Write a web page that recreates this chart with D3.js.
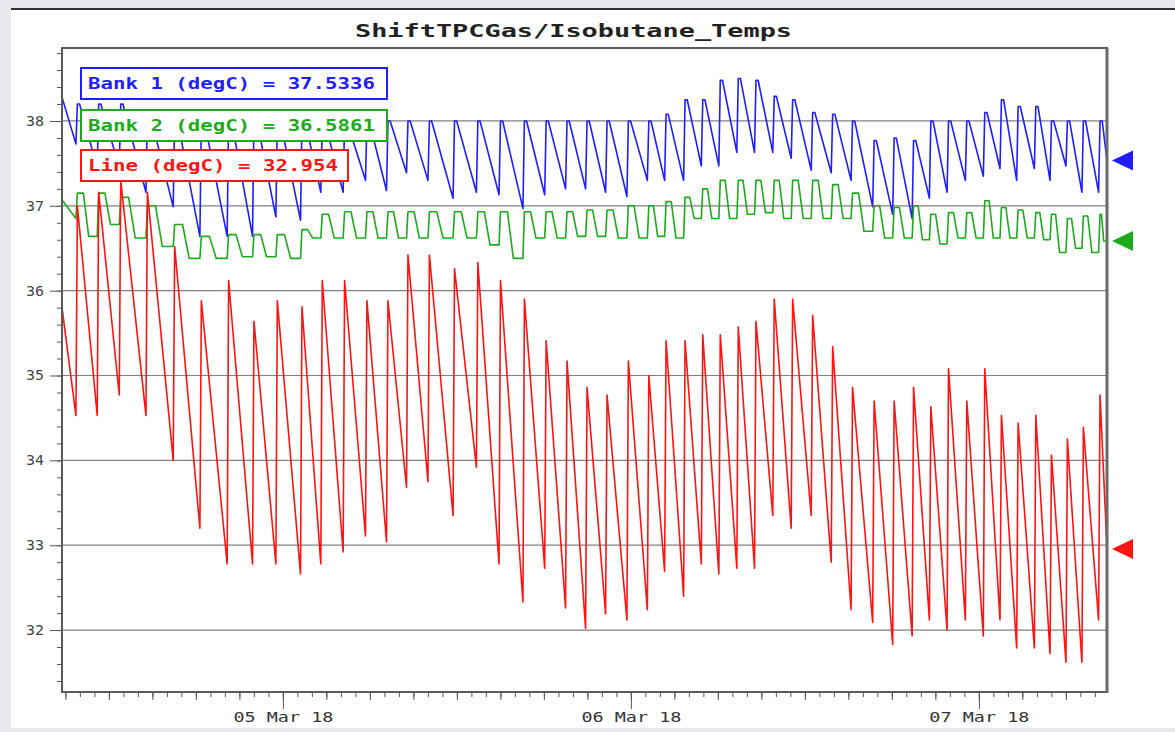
<!DOCTYPE html>
<html>
<head>
<meta charset="utf-8">
<script src="https://cdn.jsdelivr.net/npm/d3@7"></script>
<style>
  body { margin: 0; background: #e8eaee; }
  svg { display: block; }
  text { font-family: "DejaVu Sans Mono", "Liberation Mono", monospace; }
</style>
</head>
<body>
<div id="chart"></div>
<script>
// ShiftTPCGas/Isobutane_Temps, values

var titleText = "ShiftTPCGas/Isobutane_Temps"
var seriesNames = ["Bank 1 (degC)", "Bank 2 (degC)", "Line (degC)"]
var lastValues = [37.5336, 36.5861, 32.954]
var firstValues = [38.28, 37.07, 35.8]
var yTicks = [32, 33, 34, 35, 36, 37, 38]
var startTime = Date.UTC(2018, 2, 4, 8, 46)
var spanHours = 72.07

// hours after start where each compressor cycle jumps up
var cycleHours = [0.96, 2.43, 3.95, 5.79, 7.67, 9.51, 11.39, 13.14, 14.75, 16.45, 17.85,
  19.39, 20.93, 22.38, 23.76, 25.24, 26.97, 28.58, 30.14, 31.79, 33.29, 34.73,
  36.11, 37.49, 38.96, 40.37, 41.56, 42.87, 44.09, 45.30, 46.54, 47.76, 49.02, 50.29, 51.67, 53.05,
  54.42, 55.91, 57.29, 58.63, 59.82, 61.04, 62.30, 63.54, 64.69, 65.84, 67.06, 68.14, 69.24, 70.34, 71.49]

var bank1Low = [37.73, 37.45, 37.45, 37.16, 36.99, 36.64, 36.64, 36.64, 36.87, 36.83, 37.16,
  37.16, 37.3, 37.18, 37.39, 37.3, 37.09, 37.16, 37.13, 36.97, 37.13, 37.2,
  37.2, 37.16, 37.11, 37.3, 37.3, 37.3, 37.47, 37.47, 37.63, 37.63, 37.63, 37.56, 37.42, 37.39,
  37.3, 36.99, 36.9, 36.85, 37.09, 37.16, 37.3, 37.35, 37.44, 37.3, 37.44, 37.3, 37.47, 37.16, 37.16]
var bank1High = [38.2, 38.2, 38.2, 38.1, 38.05, 38.05, 38.05, 38.05, 38.05, 38.05, 38.0,
  38.0, 38.0, 38.0, 38.0, 38.0, 38.0, 38.0, 38.0, 38.0, 38.0, 38.0,
  38.0, 38.0, 38.0, 38.0, 38.08, 38.25, 38.25, 38.48, 38.5, 38.48, 38.29, 38.25, 38.1, 38.08,
  38.0, 37.77, 37.8, 37.77, 38.0, 38.0, 38.0, 38.1, 38.25, 38.17, 38.17, 38.0, 38.0, 38.0, 38.0]

var bank2Low = [36.85, 36.64, 36.78, 36.62, 36.52, 36.38, 36.38, 36.4, 36.4, 36.38, 36.62,
  36.62, 36.62, 36.62, 36.62, 36.62, 36.62, 36.62, 36.54, 36.38, 36.62, 36.62,
  36.64, 36.64, 36.62, 36.62, 36.64, 36.62, 36.85, 36.85, 36.85, 36.9, 36.92, 36.85, 36.85, 36.85,
  36.85, 36.7, 36.62, 36.62, 36.6, 36.55, 36.62, 36.62, 36.62, 36.62, 36.62, 36.6, 36.45, 36.5, 36.45]
var bank2High = [37.15, 37.15, 37.1, 37.0, 36.78, 36.64, 36.66, 36.66, 36.66, 36.72, 36.9,
  36.93, 36.93, 36.93, 36.93, 36.93, 36.93, 36.93, 36.93, 36.93, 36.93, 36.93,
  36.95, 36.95, 37.0, 37.0, 37.05, 37.1, 37.2, 37.3, 37.3, 37.3, 37.3, 37.3, 37.3, 37.25,
  37.15, 37.0, 36.98, 37.0, 36.9, 36.92, 36.92, 37.06, 36.98, 36.95, 36.92, 36.9, 36.85, 36.88, 36.9]

var lineLow = [34.53, 34.53, 34.77, 34.53, 34.0, 33.2, 32.78, 32.78, 32.78, 32.66, 32.78,
  32.92, 33.11, 33.04, 33.68, 33.75, 33.35, 33.92, 32.78, 32.33, 32.73, 32.26,
  32.02, 32.19, 32.12, 32.24, 32.69, 32.40, 32.78, 32.66, 32.73, 32.73, 33.35, 33.2, 33.35, 32.8,
  32.24, 32.09, 31.83, 31.93, 32.12, 32.0, 32.12, 31.93, 32.12, 31.79, 31.79, 31.72, 31.62, 31.62, 32.12]
var lineHigh = [37.0, 37.16, 37.3, 37.16, 36.52, 35.88, 36.12, 35.64, 35.88, 35.81, 36.12,
  36.12, 35.88, 35.88, 36.42, 36.42, 36.26, 36.33, 36.12, 35.9, 35.41, 35.17,
  34.86, 34.77, 35.17, 35.0, 35.41, 35.41, 35.48, 35.48, 35.57, 35.64, 35.9, 35.9, 35.71, 35.34,
  34.86, 34.7, 34.7, 34.86, 34.63, 35.08, 34.7, 35.08, 34.53, 34.44, 34.53, 34.06, 34.25, 34.39, 34.77]

var colors = ["#1e1eff", "#1caa1c", "#ff1414"]

;(function () {

  var width = 1175, height = 732
  var plot = {left: 62, top: 48, right: 1107, bottom: 692}

  var svg = d3.select('#chart').append('svg')
    .attr('width', width)
    .attr('height', height)

  // page frame
  svg.append('rect')
    .attr('x', 11).attr('y', 9)
    .attr('width', width - 11).attr('height', 719)
    .attr('fill', '#fff')
  svg.append('line')
    .attr('x1', 11).attr('x2', width)
    .attr('y1', 9).attr('y2', 9)
    .attr('stroke', '#333').attr('stroke-width', 2)

  // Scales

  var toDate = function (h) { return new Date(startTime + h * 36e5) }

  var x = d3.scaleUtc()
    .domain([toDate(0), toDate(spanHours)])
    .range([plot.left, plot.right])

  var y = d3.scaleLinear()
    .domain([31.27, 38.86])
    .range([plot.bottom, plot.top])

  // Title

  svg.append('text')
    .attr('x', 573.5)
    .attr('y', 37)
    .attr('text-anchor', 'middle')
    .attr('font-size', 17)
    .attr('font-weight', 'bold')
    .attr('fill', '#222')
    .attr('textLength', 437)
    .attr('lengthAdjust', 'spacingAndGlyphs')
    .text(titleText)

  // Grid

  svg.selectAll('.grid')
    .data(yTicks)
    .enter().append('line')
    .attr('class', 'grid')
    .attr('x1', plot.left).attr('x2', plot.right)
    .attr('y1', function (d) { return y(d) })
    .attr('y2', function (d) { return y(d) })
    .attr('stroke', '#808080')
    .attr('stroke-width', 1.2)

  // Series paths

  var riseH = 0.1

  function sawPath(first, lows, highs, last, holdH) {
    var pts = [[0, first]]
    cycleHours.forEach(function (t, i) {
      pts.push([t, lows[i]])
      pts.push([t + riseH, highs[i]])
      if (holdH) pts.push([t + riseH + holdH, highs[i]])
    })
    pts.push([spanHours, last])
    return pts
  }

  function stepPath(first, lows, highs, last) {
    var pts = [[0, first]]
    cycleHours.forEach(function (t, i) {
      var next = i < cycleHours.length - 1 ? cycleHours[i + 1] : spanHours
      var nextLow = i < cycleHours.length - 1 ? lows[i + 1] : last
      var dur = next - t
      pts.push([t, lows[i]])
      pts.push([t + riseH, highs[i]])
      pts.push([t + dur * 0.35, highs[i]])
      pts.push([t + dur * 0.6, nextLow])
    })
    pts.push([spanHours, last])
    return pts
  }

  var series = [
    sawPath(firstValues[0], bank1Low, bank1High, lastValues[0], 0.15),
    stepPath(firstValues[1], bank2Low, bank2High, lastValues[1]),
    sawPath(firstValues[2], lineLow, lineHigh, lastValues[2], 0)
  ]

  svg.append('clipPath').attr('id', 'clip')
    .append('rect')
    .attr('x', plot.left).attr('y', plot.top)
    .attr('width', plot.right - plot.left).attr('height', plot.bottom - plot.top)

  var line = d3.line()
    .x(function (d) { return x(toDate(d[0])) })
    .y(function (d) { return y(d[1]) })

  svg.append('g').attr('clip-path', 'url(#clip)')
    .selectAll('.series')
    .data(series)
    .enter().append('path')
    .attr('class', 'series')
    .attr('d', line)
    .attr('fill', 'none')
    .attr('stroke', function (d, i) { return colors[i] })
    .attr('stroke-width', 1.6)
    .attr('stroke-linejoin', 'round')

  // Axes

  var minorY = d3.range(157, 195).map(function (k) { return k / 5 })

  var yMinor = svg.append('g')
    .attr('transform', 'translate(' + plot.left + ',0)')
    .call(d3.axisLeft(y).tickValues(minorY).tickSize(5).tickFormat(''))
  var yMajor = svg.append('g')
    .attr('transform', 'translate(' + plot.left + ',0)')
    .call(d3.axisLeft(y).tickValues(yTicks).tickSize(12).tickPadding(6).tickFormat(d3.format('d')))

  var xHour = svg.append('g')
    .attr('transform', 'translate(0,' + plot.bottom + ')')
    .call(d3.axisBottom(x).ticks(d3.utcHour.every(1)).tickSize(5).tickFormat(''))
  var x3Hour = svg.append('g')
    .attr('transform', 'translate(0,' + plot.bottom + ')')
    .call(d3.axisBottom(x).ticks(d3.utcHour.every(3)).tickSize(8).tickFormat(''))
  var xDay = svg.append('g')
    .attr('transform', 'translate(0,' + plot.bottom + ')')
    .call(d3.axisBottom(x).ticks(d3.utcDay.every(1)).tickSize(17).tickPadding(3)
      .tickFormat(d3.utcFormat('%d %b %y')))

  ;[yMinor, yMajor, xHour, x3Hour, xDay].forEach(function (g) {
    g.select('.domain').remove()
    g.selectAll('.tick line').attr('stroke', '#555')
  })
  yMajor.selectAll('text')
    .attr('font-size', 14).attr('fill', '#444')
    .attr('textLength', 18).attr('lengthAdjust', 'spacingAndGlyphs')
  xDay.selectAll('text')
    .attr('font-size', 14).attr('fill', '#333')
    .attr('textLength', 100).attr('lengthAdjust', 'spacingAndGlyphs')

  // plot frame
  svg.append('rect')
    .attr('x', plot.left).attr('y', plot.top)
    .attr('width', plot.right - plot.left).attr('height', plot.bottom - plot.top)
    .attr('fill', 'none')
    .attr('stroke', '#5a5a5a')
    .attr('stroke-width', 2)
  svg.append('line')
    .attr('x1', plot.right).attr('x2', plot.right)
    .attr('y1', plot.top).attr('y2', plot.bottom + 1)
    .attr('stroke', '#6a6a6a')
    .attr('stroke-width', 3)

  // Legend

  var legendBoxes = [
    {y: 68, w: 306, len: 287},
    {y: 110, w: 306, len: 287},
    {y: 150, w: 267, len: 250}
  ]
  var fmt = [d3.format('.4f'), d3.format('.4f'), d3.format('.3f')]

  var legend = svg.selectAll('.legend')
    .data(seriesNames)
    .enter().append('g')
    .attr('class', 'legend')
    .attr('transform', function (d, i) { return 'translate(81,' + legendBoxes[i].y + ')' })

  legend.append('rect')
    .attr('width', function (d, i) { return legendBoxes[i].w })
    .attr('height', 31)
    .attr('fill', '#fff')
    .attr('stroke', function (d, i) { return colors[i] })
    .attr('stroke-width', 2)

  legend.append('text')
    .attr('x', 7)
    .attr('y', 21)
    .attr('font-size', 15)
    .attr('font-weight', 'bold')
    .attr('fill', function (d, i) { return colors[i] })
    .attr('textLength', function (d, i) { return legendBoxes[i].len })
    .attr('lengthAdjust', 'spacingAndGlyphs')
    .text(function (d, i) { return d + ' = ' + fmt[i](lastValues[i]) })

  // current value markers
  svg.selectAll('.marker')
    .data(lastValues)
    .enter().append('path')
    .attr('class', 'marker')
    .attr('d', function (d) {
      var yy = y(d)
      return 'M1112,' + yy + 'L1133,' + (yy - 10) + 'L1133,' + (yy + 10) + 'Z'
    })
    .attr('fill', function (d, i) { return colors[i] })

})()
</script>
</body>
</html>
